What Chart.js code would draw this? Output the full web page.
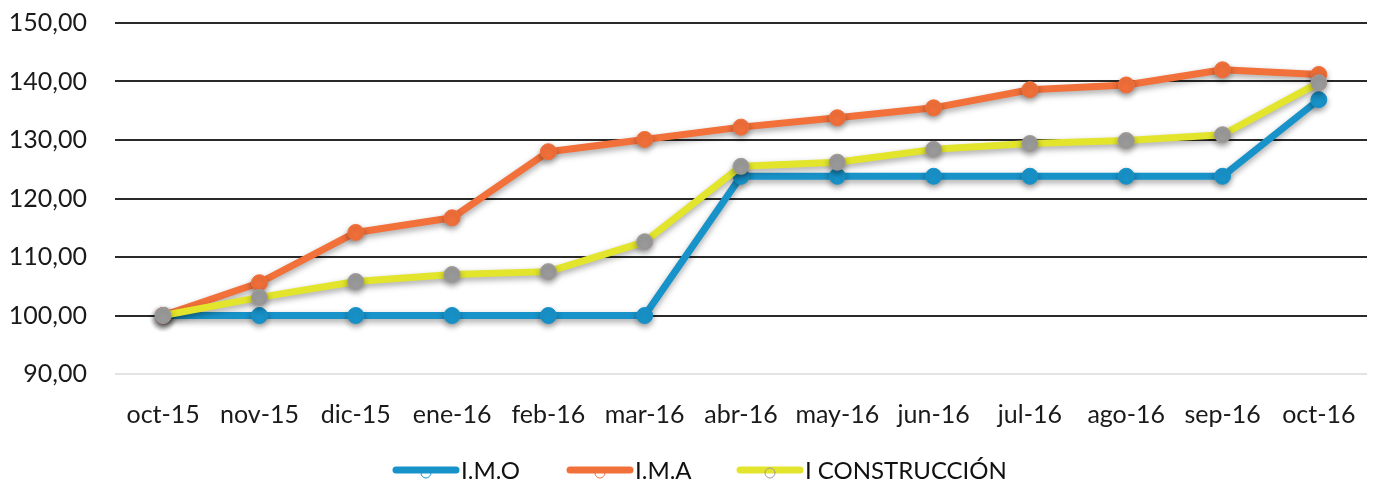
<!DOCTYPE html>
<html lang="es">
<head>
  <meta charset="UTF-8" />
  <title>Índices</title>
  <script src="https://cdn.jsdelivr.net/npm/chart.js"></script>
  <style>
    body { margin: 0; background: #fff; }
    #wrap { width: 1376px; height: 488px; }
  </style>
</head>
<body>
<div id="wrap"><canvas id="chart" width="1376" height="488"></canvas></div>

<script>
  const months = ['oct-15', 'nov-15', 'dic-15', 'ene-16', 'feb-16', 'mar-16', 'abr-16',
                  'may-16', 'jun-16', 'jul-16', 'ago-16', 'sep-16', 'oct-16'];
  const imo = [100, 100, 100, 100, 100, 100, 123.8, 123.8, 123.8, 123.8, 123.8, 123.8, 136.9];
  const ima = [100, 105.6, 114.2, 116.7, 128.0, 130.1, 132.2, 133.8, 135.5, 138.6, 139.4, 142.0, 141.2];
  const construccion = [100, 103.1, 105.8, 107.0, 107.5, 112.6, 125.5, 126.2, 128.4, 129.4, 129.9, 130.9, 139.8];
  const yTicks = [90, 100, 110, 120, 130, 140, 150];

  const font = 'Lato';

  // sombra suave bajo las líneas, como en Excel
  const shadow = {
    id: 'shadow',
    beforeDatasetDraw(chart) {
      const ctx = chart.ctx;
      ctx.save();
      ctx.shadowColor = 'rgba(0,0,0,0.35)';
      ctx.shadowBlur = 6;
      ctx.shadowOffsetY = 3;
    },
    afterDatasetDraw(chart) {
      chart.ctx.restore();
    }
  };

  // leyenda con segmento de línea y círculo hueco
  const legendLine = {
    id: 'legendLine',
    afterDraw(chart) {
      const ctx = chart.ctx;
      const xs = [393, 567, 737];
      const y = 470;
      ctx.save();
      chart.data.datasets.forEach((ds, i) => {
        const x = xs[i];
        ctx.lineCap = 'round';
        ctx.strokeStyle = ds.borderColor;
        ctx.lineWidth = 7;
        ctx.beginPath();
        ctx.moveTo(x + 3, y);
        ctx.lineTo(x + 63, y);
        ctx.stroke();
        ctx.lineWidth = 1;
        ctx.strokeStyle = ds.pointBorderColor;
        ctx.beginPath();
        ctx.arc(x + 33, y + 3, 5, 0, Math.PI * 2);
        ctx.stroke();
        ctx.fillStyle = '#111';
        ctx.font = '24px ' + font;
        ctx.textBaseline = 'middle';
        ctx.fillText(ds.label, x + 68, y + 1);
      });
      ctx.restore();
    }
  };

  new Chart(document.getElementById('chart'), {
    type: 'line',
    data: {
      labels: months,
      datasets: [
        {
          label: 'I.M.O', data: imo, order: 2,
          borderColor: '#1893ca', backgroundColor: '#1893ca',
          pointBackgroundColor: '#1893ca', pointBorderColor: '#1893ca'
        },
        {
          label: 'I.M.A', data: ima, order: 1,
          borderColor: '#f2703a', backgroundColor: '#f2703a',
          pointBackgroundColor: '#f2703a', pointBorderColor: '#f2703a'
        },
        {
          label: 'I CONSTRUCCIÓN', data: construccion, order: 0,
          borderColor: '#e2e52c', backgroundColor: '#e2e52c',
          pointBackgroundColor: '#9b9b9b', pointBorderColor: '#a39a96'
        }
      ]
    },
    options: {
      responsive: false,
      animation: false,
      layout: { padding: { left: 8, right: 7, top: 23, bottom: 54 } },
      elements: {
        line: { borderWidth: 7, tension: 0, borderJoinStyle: 'round' },
        point: { radius: 8, borderWidth: 1 }
      },
      plugins: {
        legend: { display: false },
        tooltip: { enabled: false }
      },
      scales: {
        x: {
          offset: true,
          grid: { display: false },
          border: { display: false },
          ticks: { color: '#1a1a1a', font: { family: font, size: 25 }, padding: 18, maxRotation: 0 },
          afterFit(scale) { scale.height = 60; }
        },
        y: {
          min: 90, max: 150,
          afterBuildTicks(scale) { scale.ticks = yTicks.map(v => ({ value: v })); },
          border: { display: false },
          grid: {
            drawTicks: false,
            lineWidth: 2,
            color: ctx => ctx.tick && ctx.tick.value === 90 ? '#e3e3e3' : '#2a2a2a'
          },
          ticks: {
            color: '#1a1a1a',
            font: { family: font, size: 25 },
            padding: 28,
            callback: v => v.toFixed(2).replace('.', ',')
          },
          afterFit(scale) {
            scale.width = 107;
            scale.paddingTop = 0;
            scale.paddingBottom = 0;
          }
        }
      }
    },
    plugins: [shadow, legendLine]
  });
</script>
</body>
</html>
